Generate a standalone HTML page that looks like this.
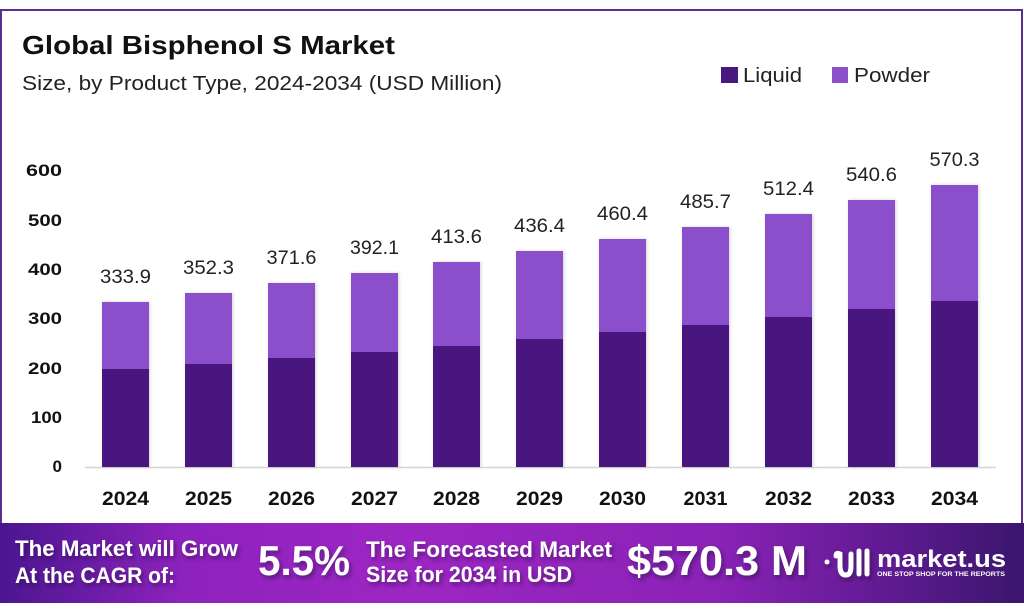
<!DOCTYPE html>
<html><head><meta charset="utf-8"><style>
html,body{margin:0;padding:0;background:#fff;}
svg{display:block;}
text{font-family:"Liberation Sans",sans-serif;}
</style></head><body>
<svg width="1024" height="614" viewBox="0 0 1024 614" xmlns="http://www.w3.org/2000/svg">
<defs>
<linearGradient id="bn" x1="0" y1="0" x2="1" y2="0">
<stop offset="0" stop-color="#4a1690"/>
<stop offset="0.18" stop-color="#8e22bd"/>
<stop offset="0.4" stop-color="#9d26c3"/>
<stop offset="0.7" stop-color="#8a22b6"/>
<stop offset="0.88" stop-color="#5c1a8f"/>
<stop offset="1" stop-color="#3a166c"/>
</linearGradient>
<filter id="sh" x="-10%" y="-20%" width="130%" height="150%">
<feDropShadow dx="2" dy="3" stdDeviation="2" flood-color="#2a0a45" flood-opacity="0.55"/>
</filter>
<filter id="bs" x="-20%" y="-5%" width="140%" height="110%">
<feDropShadow dx="1" dy="0" stdDeviation="1.5" flood-color="#000" flood-opacity="0.18"/>
</filter>
</defs>
<rect x="0" y="0" width="1024" height="614" fill="#fff"/>
<rect x="1" y="10" width="1021" height="516" fill="none" stroke="#5b2e8e" stroke-width="2"/>

<text x="22" y="54" font-size="26" font-weight="bold" fill="#111" textLength="373" lengthAdjust="spacingAndGlyphs">Global Bisphenol S Market</text>
<text x="22" y="90" font-size="20" fill="#222" textLength="480" lengthAdjust="spacingAndGlyphs">Size, by Product Type, 2024-2034 (USD Million)</text>

<rect x="721" y="67" width="17" height="16" fill="#4a1780"/>
<text x="743" y="82" font-size="20" fill="#222" textLength="59" lengthAdjust="spacingAndGlyphs">Liquid</text>
<rect x="832" y="67" width="16" height="16" fill="#8b4fcb"/>
<text x="854" y="82" font-size="20" fill="#222" textLength="76" lengthAdjust="spacingAndGlyphs">Powder</text>

<g font-size="17" font-weight="bold" fill="#111" text-anchor="end">
<text x="62" y="472">0</text>
<text x="62" y="423" textLength="31" lengthAdjust="spacingAndGlyphs">100</text>
<text x="62" y="374" textLength="34" lengthAdjust="spacingAndGlyphs">200</text>
<text x="62" y="324" textLength="34" lengthAdjust="spacingAndGlyphs">300</text>
<text x="62" y="275" textLength="34" lengthAdjust="spacingAndGlyphs">400</text>
<text x="62" y="226" textLength="34" lengthAdjust="spacingAndGlyphs">500</text>
<text x="62" y="176" textLength="36" lengthAdjust="spacingAndGlyphs">600</text>
</g>

<line x1="85" y1="467.5" x2="996" y2="467.5" stroke="#d6d6d6" stroke-width="1.5"/>

<g filter="url(#bs)">
<rect x="102" y="302" width="47" height="67" fill="#8b4fcb"/><rect x="102" y="369" width="47" height="98" fill="#4a1780"/>
<rect x="185" y="293" width="47" height="71" fill="#8b4fcb"/><rect x="185" y="364" width="47" height="103" fill="#4a1780"/>
<rect x="268" y="283" width="47" height="75" fill="#8b4fcb"/><rect x="268" y="358" width="47" height="109" fill="#4a1780"/>
<rect x="351" y="273" width="47" height="79" fill="#8b4fcb"/><rect x="351" y="352" width="47" height="115" fill="#4a1780"/>
<rect x="433" y="262" width="47" height="84" fill="#8b4fcb"/><rect x="433" y="346" width="47" height="121" fill="#4a1780"/>
<rect x="516" y="251" width="47" height="88" fill="#8b4fcb"/><rect x="516" y="339" width="47" height="128" fill="#4a1780"/>
<rect x="599" y="239" width="47" height="93" fill="#8b4fcb"/><rect x="599" y="332" width="47" height="135" fill="#4a1780"/>
<rect x="682" y="227" width="47" height="98" fill="#8b4fcb"/><rect x="682" y="325" width="47" height="142" fill="#4a1780"/>
<rect x="765" y="214" width="47" height="103" fill="#8b4fcb"/><rect x="765" y="317" width="47" height="150" fill="#4a1780"/>
<rect x="848" y="200" width="47" height="109" fill="#8b4fcb"/><rect x="848" y="309" width="47" height="158" fill="#4a1780"/>
<rect x="931" y="185" width="47" height="116" fill="#8b4fcb"/><rect x="931" y="301" width="47" height="166" fill="#4a1780"/>
</g>

<g font-size="19" fill="#222" text-anchor="middle">
<text x="125.5" y="283" textLength="51" lengthAdjust="spacingAndGlyphs">333.9</text>
<text x="208.5" y="274" textLength="51" lengthAdjust="spacingAndGlyphs">352.3</text>
<text x="291.5" y="264" textLength="50" lengthAdjust="spacingAndGlyphs">371.6</text>
<text x="374.5" y="254" textLength="49" lengthAdjust="spacingAndGlyphs">392.1</text>
<text x="456.5" y="243" textLength="51" lengthAdjust="spacingAndGlyphs">413.6</text>
<text x="539.5" y="232" textLength="51" lengthAdjust="spacingAndGlyphs">436.4</text>
<text x="622.5" y="220" textLength="51" lengthAdjust="spacingAndGlyphs">460.4</text>
<text x="705.5" y="208" textLength="51" lengthAdjust="spacingAndGlyphs">485.7</text>
<text x="788.5" y="195" textLength="51" lengthAdjust="spacingAndGlyphs">512.4</text>
<text x="871.5" y="181" textLength="51" lengthAdjust="spacingAndGlyphs">540.6</text>
<text x="954.5" y="166" textLength="50" lengthAdjust="spacingAndGlyphs">570.3</text>
</g>

<g font-size="19" font-weight="bold" fill="#111" text-anchor="middle">
<text x="125.5" y="505" textLength="47" lengthAdjust="spacingAndGlyphs">2024</text>
<text x="208.5" y="505" textLength="47" lengthAdjust="spacingAndGlyphs">2025</text>
<text x="291.5" y="505" textLength="47" lengthAdjust="spacingAndGlyphs">2026</text>
<text x="374.5" y="505" textLength="47" lengthAdjust="spacingAndGlyphs">2027</text>
<text x="456.5" y="505" textLength="47" lengthAdjust="spacingAndGlyphs">2028</text>
<text x="539.5" y="505" textLength="47" lengthAdjust="spacingAndGlyphs">2029</text>
<text x="622.5" y="505" textLength="47" lengthAdjust="spacingAndGlyphs">2030</text>
<text x="705.5" y="505" textLength="44" lengthAdjust="spacingAndGlyphs">2031</text>
<text x="788.5" y="505" textLength="47" lengthAdjust="spacingAndGlyphs">2032</text>
<text x="871.5" y="505" textLength="47" lengthAdjust="spacingAndGlyphs">2033</text>
<text x="954.5" y="505" textLength="47" lengthAdjust="spacingAndGlyphs">2034</text>
</g>

<rect x="0" y="523" width="1024" height="80" fill="url(#bn)"/>
<g fill="#fff" font-weight="bold" filter="url(#sh)">
<text x="15" y="556" font-size="22" textLength="223" lengthAdjust="spacingAndGlyphs">The Market will Grow</text>
<text x="15" y="583" font-size="22" textLength="160" lengthAdjust="spacingAndGlyphs">At the CAGR of:</text>
<text x="258" y="575" font-size="42" textLength="92" lengthAdjust="spacingAndGlyphs">5.5%</text>
<text x="366" y="557" font-size="22" textLength="246" lengthAdjust="spacingAndGlyphs">The Forecasted Market</text>
<text x="366" y="582" font-size="22" textLength="206" lengthAdjust="spacingAndGlyphs">Size for 2034 in USD</text>
<text x="627" y="575" font-size="42" textLength="180" lengthAdjust="spacingAndGlyphs">$570.3 M</text>
</g>
<g fill="none" stroke="#fff" stroke-width="5" stroke-linecap="round" filter="url(#sh)">
<circle cx="827" cy="562" r="2.5" fill="#fff" stroke="none"/>
<path d="M836 556 Q836 552 840 554 L840 566 Q840 575 846 575 Q851 575 851 566 L851 554"/>
<line x1="859" y1="551" x2="859" y2="574"/>
<line x1="867" y1="551" x2="867" y2="574"/>
</g>
<text x="877" y="567" font-size="24" font-weight="bold" fill="#fff" textLength="129" lengthAdjust="spacingAndGlyphs">market.us</text>
<text x="877" y="576" font-size="6" font-weight="bold" fill="#fff" textLength="128" lengthAdjust="spacingAndGlyphs">ONE STOP SHOP FOR THE REPORTS</text>
</svg>
</body></html>
